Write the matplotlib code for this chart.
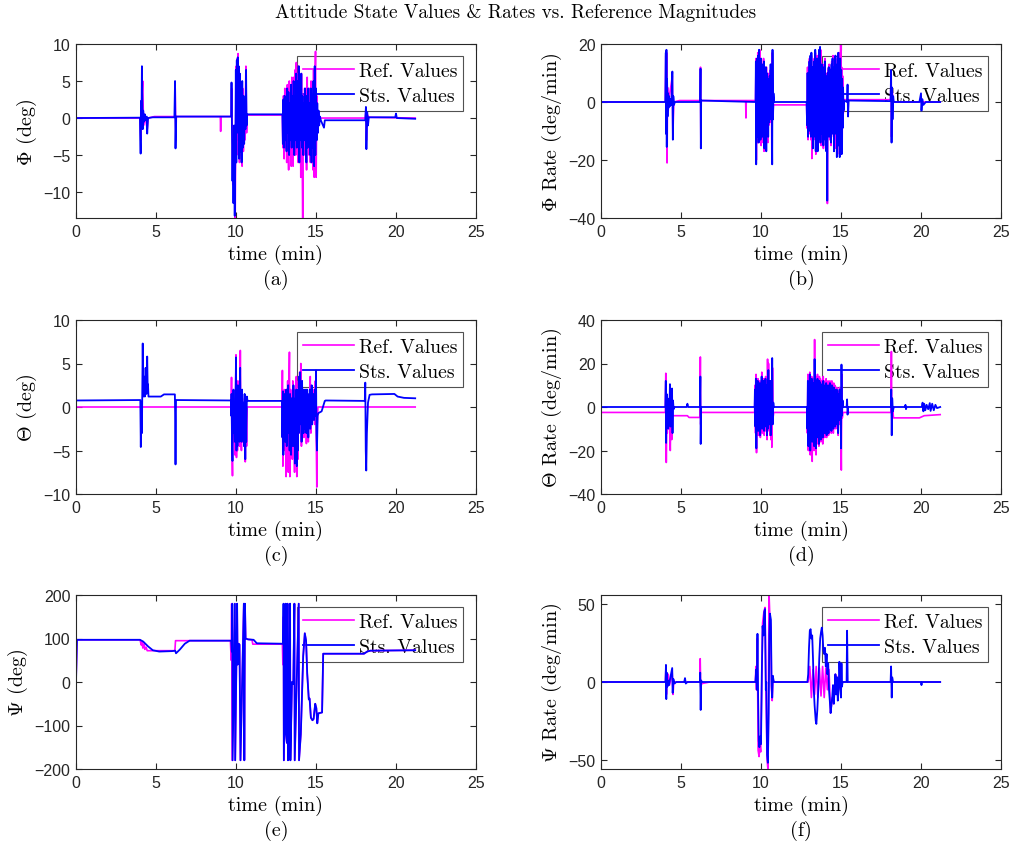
import matplotlib
matplotlib.use("Agg")
import matplotlib.pyplot as plt

plt.rcParams['mathtext.fontset'] = 'cm'
plt.rcParams['font.family'] = ['Liberation Sans', 'DejaVu Sans']
CM = 'cmr10'

# ---- (a) Phi (deg) ----
phi_sts_t = [0, 4.0, 4.04, 4.06, 4.09, 4.12, 4.17, 4.2, 4.25, 4.3, 4.35, 4.42, 4.45, 4.5, 4.8, 6.15, 6.19, 6.22, 6.26, 9.7,
             9.72, 9.75, 9.78, 9.81, 9.84, 9.88, 9.92, 9.96, 9.99, 10.02, 10.05, 10.08, 10.11, 10.14, 10.17, 10.2, 10.24,
             10.27, 10.31, 10.35, 10.39, 10.43, 10.47, 10.51, 10.55, 10.59, 10.63, 10.66, 10.7, 12.9,
             12.93, 12.96, 13.0, 13.04, 13.08, 13.12, 13.16, 13.2, 13.24, 13.28, 13.32, 13.36, 13.4, 13.44, 13.48, 13.52,
             13.56, 13.6, 13.64, 13.68, 13.72, 13.76, 13.8, 13.84, 13.88, 13.92, 13.96, 14.0, 14.04, 14.08, 14.12, 14.16,
             14.2, 14.24, 14.28, 14.32, 14.36, 14.4, 14.44, 14.48, 14.52, 14.56, 14.6, 14.64, 14.68, 14.72, 14.76, 14.8,
             14.84, 14.88, 14.92, 14.96, 15.0, 15.04, 15.08, 15.12, 15.16, 15.2, 15.25, 15.3, 15.5, 15.55, 18.08, 18.12,
             18.15, 18.2, 18.25, 18.3, 19.95, 20.0, 20.05, 21.2]
phi_sts_v = [0, 0.05, -4.8, 2.3, -1, 7.0, -1.5, 1, -0.5, 0.5, -0.3, 0.2, -2.1, 0, 0.1, 0.1, 5.0, -4.1, 0.2, 0.2,
             4.8, -2, -8.5, -3, -11.5, -1, -13.2, -4, 6.5, -6, 7.8, 2, 8.2, -2, 7, -5.5, 6,
             -4.5, 3, -6, 5, -4, 3, -3.5, 2, -1.5, 6.5, -1, 0.5, 0.5,
             -3.5, 2.5, -4, 3, -3, 2, -4.5, 4, -2, 3.5, -5, 2, -3, 4.5, -4, 3,
             -2.5, 5, -5, 3, -3, 6, -4, 5, -2, 7, -6, 4, -3, 6, -4, 3,
             -5, 2, -3, 4, -2, -6, 3, -4, 4, -3, 2, -5, 4, -6, 3, -4,
             5, -6.5, 7, -5, 4, -3, 2, -2, 1, -1, 0.2, -0.3, -1.3, -0.3, -0.3, 1.5,
             -4.2, 0.8, -1, 0.1, 0.1, 0.6, 0, -0.1]
phi_ref_t = [0, 4.0, 4.05, 4.1, 4.17, 4.22, 4.3, 4.45, 4.5, 4.9, 6.18, 6.2, 6.24, 6.27, 9.02, 9.04, 9.06, 9.7,
             9.73, 9.77, 9.8, 9.84, 9.87, 9.91, 9.95, 9.98, 10.01, 10.04, 10.07, 10.1, 10.13, 10.16, 10.19, 10.22,
             10.26, 10.3, 10.34, 10.38, 10.42, 10.46, 10.5, 10.54, 10.58, 10.62, 10.66, 10.7, 12.9,
             12.93, 12.97, 13.01, 13.05, 13.09, 13.13, 13.17, 13.21, 13.25, 13.29, 13.33, 13.37, 13.41, 13.45, 13.49,
             13.53, 13.57, 13.61, 13.65, 13.69, 13.73, 13.77, 13.81, 13.85, 13.89, 13.93, 13.97, 14.01, 14.05, 14.09,
             14.13, 14.17, 14.21, 14.25, 14.29, 14.33, 14.37, 14.41, 14.45, 14.49, 14.53, 14.57, 14.61, 14.65, 14.69,
             14.73, 14.77, 14.81, 14.85, 14.89, 14.93, 14.97, 15.01, 15.05, 15.09, 15.13, 15.2, 18.08, 18.12, 18.15,
             18.2, 18.3, 21.2]
phi_ref_v = [0, 0, -3, 2, 5, -1, 0.5, -1.5, 0, 0.2, 0.2, 4, -3, 0.2, 0.2, -1.8, 0.2, 0.2,
             4, -3, -9, -5, -11, -3, -13.5, -2, 7, -5, 8, 3, 8.7, -3, 6, -6,
             5, -5, 2, -6.5, 4, -4.5, 2, -3, 1, 7, -2, 0.4, 0.4,
             -4, 3, -5.5, 4, -4, 3, -6, 4.5, -3, -7, 5, -4, 3, -6.5, 5.5,
             -3, -6.5, 5.5, -4, 6.5, -5, 7.5, -3, 6, -6, 7, -4, 5, -8, 6,
             -3, -14, 3, -5, 4, -3, 2, -7, 5.5, -4, 3, -5, 4, -6, 5,
             -4, 3, -7, 6.5, -8, 4, 9, -8, 3, -2, 1, 0, 0, 1, -3,
             0.5, 0.1, 0]

# ---- (b) Phi rate (deg/min) ----
phir_sts_t = [0, 4.02, 4.05, 4.07, 4.09, 4.11, 4.13, 4.16, 4.19, 4.22, 4.26, 4.3, 4.35, 4.4, 4.46, 4.49, 4.52, 4.56,
              4.62, 6.2, 6.22, 6.24, 6.26, 9.66,
              9.68, 9.7, 9.72, 9.74, 9.76, 9.79, 9.82, 9.85, 9.88, 9.91, 9.94, 9.97, 10.0, 10.03, 10.06, 10.09, 10.12,
              10.15, 10.18, 10.21, 10.24, 10.27, 10.3, 10.33, 10.36, 10.39, 10.42, 10.45, 10.48, 10.51, 10.54, 10.57,
              10.6, 10.63, 10.66, 10.7, 10.72, 10.75, 10.78, 10.82, 12.85,
              12.88, 12.91, 12.94, 12.97, 13.0, 13.03, 13.06, 13.09, 13.12, 13.15, 13.18, 13.21, 13.24, 13.27, 13.3,
              13.33, 13.36, 13.39, 13.42, 13.45, 13.48, 13.51, 13.54, 13.57, 13.6, 13.63, 13.66, 13.69, 13.72, 13.75,
              13.78, 13.81, 13.84, 13.87, 13.9, 13.93, 13.96, 13.99, 14.02, 14.05, 14.08, 14.11, 14.14, 14.17, 14.2,
              14.23, 14.26, 14.29, 14.32, 14.35, 14.38, 14.41, 14.44, 14.47, 14.5, 14.53, 14.56, 14.59, 14.62, 14.65,
              14.68, 14.71, 14.74, 14.77, 14.8, 14.83, 14.86, 14.89, 14.92, 14.95, 14.98, 15.01, 15.04, 15.07, 15.1,
              15.13, 15.16, 15.2, 15.38, 15.41, 15.44, 15.48, 18.1, 18.13, 18.16, 18.19, 18.22, 18.26, 18.3, 19.9, 20.0,
              20.03, 20.08, 20.15, 20.3, 21.2]
phir_sts_v = [0, 0, 17, -11, 18, -15.5, 8, -5, 3, -2, 2, -1.5, 1, -1, 10.5, -13, 2, -1,
              0, 0, 11.5, -16, 0.5, 0,
              14, -21.5, 10, -12, 15, -9, 16, -14, 18, -10, 12, -13, 15, -11, 9, -12, 13,
              -8, 14, -16, 7, -10, 12, -17, 10, -9, 8, -12, 6, -7, 9, -5,
              13, -6, 10, -21.5, 18, -6, 3, 0, 0,
              -8, 10, -12, 8, -6, 14, -10, 16, -12, 17, -8, 12, -16, 7, -12,
              14, -9, 18, -17, 13, -10, 15, -17, 11, -13, 18, -9, 19, -14, 10,
              -11, 13, -8, 11, -15, 12, -10, 14, -13, 9, -17, 8, -34, 10, -10,
              12, -12, 9, -9, 11, -14, 13, -8, 15, -11, 10, -17, 12, -11, 16,
              -8, 9, -19, 13, -12, 17, -15, 10, -19, 15, -13, 11, -18, 8, -9,
              5, -3, 0.5, 0, 6, -5, 0.5, 0.3, 11, -14, 5, -6, 2, 0, 0, 3,
              -3, 1, -1, 0, 0]
phir_ref_t = [0, 4.02, 4.05, 4.08, 4.1, 4.13, 4.16, 4.2, 4.25, 4.46, 4.49, 4.55, 4.9, 6.2, 6.22, 6.24, 6.26, 9.04,
              9.06, 9.08, 9.66,
              9.69, 9.71, 9.74, 9.77, 9.8, 9.83, 9.86, 9.89, 9.92, 9.95, 9.98, 10.01, 10.04, 10.07, 10.1, 10.13, 10.16,
              10.19, 10.22, 10.25, 10.28, 10.31, 10.34, 10.37, 10.4, 10.43, 10.46, 10.49, 10.52, 10.55, 10.58, 10.61,
              10.64, 10.68, 10.71, 10.74, 10.78, 12.85,
              12.88, 12.91, 12.94, 12.97, 13.0, 13.03, 13.06, 13.09, 13.12, 13.15, 13.18, 13.21, 13.24, 13.27, 13.3,
              13.33, 13.36, 13.4, 13.43, 13.46, 13.5, 13.53, 13.56, 13.6, 13.63, 13.66, 13.7, 13.73, 13.76, 13.8,
              13.83, 13.86, 13.9, 13.93, 13.96, 14.0, 14.03, 14.06, 14.09, 14.12, 14.15, 14.18, 14.22, 14.26, 14.3,
              14.34, 14.38, 14.42, 14.46, 14.5, 14.54, 14.58, 14.62, 14.66, 14.7, 14.74, 14.78, 14.82, 14.86, 14.9,
              14.94, 14.98, 15.01, 15.04, 15.07, 15.1, 15.14, 15.2, 18.1, 18.13, 18.16, 18.2, 18.25, 18.3, 21.2]
phir_ref_v = [0, 0, 16, -10, 17, -21, 5, -3, 1, 9, -12, 0, 0.5, 0.5, 12, -15, 0.5, 0.5,
              -5.5, 0.5, 0.5,
              15, -20, 12, -14, 17, -10, 15, -12, 18, -14, 12, -15, 13, -12, 10, -14, 15,
              -17, 8, -11, 11, -16, 12, -10, 9, -14, 7, -8, 10, -6, 11, -7,
              12, -20, 17, -5, -1, -1,
              -9, 12, -13, 9, -7, 15, -11, 14, -13, 16, -19.5, 11, -15, 9, -13,
              15, -10, 17, -18, 12, -11, 16, -15, 12, -14, 17, -10, 18, -15, 12,
              -12, 13, -16, 11, -11, 15, -12, 10, -16, 9, -35, 11, -11, 13, -13,
              10, -15, 14, -9, 16, -12, 11, -16, 15, -9, 10, -18, 14, -14, 17,
              -18, 20, -15, 12, -17, 9, -4, 0.8, 0.8, 10, -12, 4, 0.5, 0, 0]

# ---- (c) Theta (deg) ----
th_sts_t = [0, 4.02, 4.05, 4.08, 4.12, 4.17, 4.2, 4.25, 4.3, 4.35, 4.4, 4.45, 4.48, 4.5, 4.53, 5.3, 5.5, 6.18, 6.2,
            6.22, 6.25, 9.68,
            9.7, 9.72, 9.75, 9.78, 9.81, 9.84, 9.87, 9.9, 9.93, 9.96, 10.0, 10.03, 10.06, 10.09, 10.12, 10.15, 10.18,
            10.22, 10.26, 10.29, 10.32, 10.35, 10.38, 10.42, 10.46, 10.5, 10.54, 10.58, 10.61, 10.64, 10.68, 10.72,
            12.88,
            12.9, 12.93, 12.96, 12.99, 13.02, 13.05, 13.08, 13.11, 13.14, 13.17, 13.2, 13.23, 13.26, 13.29, 13.32,
            13.35, 13.38, 13.41, 13.44, 13.47, 13.5, 13.53, 13.56, 13.59, 13.62, 13.65, 13.68, 13.71, 13.74, 13.77,
            13.8, 13.83, 13.86, 13.89, 13.92, 13.95, 13.98, 14.01, 14.04, 14.07, 14.1, 14.13, 14.16, 14.19, 14.22,
            14.25, 14.28, 14.31, 14.34, 14.37, 14.4, 14.43, 14.46, 14.49, 14.52, 14.55, 14.58, 14.61, 14.64, 14.67,
            14.7, 14.73, 14.76, 14.79, 14.82, 14.85, 14.88, 14.91, 14.94, 14.97, 15.0, 15.03, 15.06, 15.1, 15.15,
            15.35, 15.55, 15.6, 18.05, 18.08, 18.11, 18.14, 18.18, 18.25, 18.35, 18.5, 19.9, 20.1, 20.5, 21.2]
th_sts_v = [0.75, 0.8, -4.6, 0.5, -3, 7.3, 1.2, 3.5, 1.2, 4.5, 1.5, 5.8, 2.2, 2.6, 1.2, 1.2, 1.45, 1.45, -1.5,
            -6.6, 0.8, 0.75,
            -1, 1.5, -4, -6.2, -1, 2, -3, 0.5, -4, -1, 5.7, -5, 1, -4.5, 2.5, -3, 0.5,
            -4, 4.5, -2.5, 1, -4, 2, -3.5, 0.5, -4.5, 1.5, -6, 0.5, -4, 1.2, 0.7,
            0.7,
            -3.5, 1.8, -5.5, 0.5, -2.5, 1.5, -4, -1, 2, -4.5, 0.5, -2, 2.5, -3, 0,
            -5, 1.5, -2, -5.5, 1, -3, 0.5, -4.5, 2.5, -3.5, 0, -6.5, 1, -2.5, 2,
            -6.8, -1, -5, 2, -3, 3.5, -2, 4, -1, 1.5, -4, 3, -1.5, 2, -3,
            1, -2.5, 2, -1, 1.5, -3, 2, -0.5, 1.5, -3.5, 0.5, -1.5, 2, -2.5, 1,
            -1, 2.5, -2, 1, -0.5, 1.5, -1.5, 0.5, 2, -1, 4.2, -3, -5, -1, -0.7,
            -0.5, 0.7, 0.75, 0.7, 2.8, -5, -7.3, -3, 0.5, 1.4, 1.45, 1.5, 1.2, 1.05, 1.0]
th_ref_t = [0, 9.7,
            9.72, 9.75, 9.78, 9.81, 9.84, 9.87, 9.9, 9.93, 9.97, 10.0, 10.03, 10.06, 10.09, 10.12, 10.16, 10.2, 10.23,
            10.27, 10.3, 10.34, 10.38, 10.42, 10.46, 10.5, 10.54, 10.58, 10.62, 10.66, 10.7, 12.88,
            12.9, 12.93, 12.96, 13.0, 13.03, 13.06, 13.1, 13.13, 13.16, 13.2, 13.23, 13.27, 13.3, 13.34, 13.37, 13.41,
            13.44, 13.48, 13.52, 13.55, 13.59, 13.62, 13.66, 13.7, 13.73, 13.77, 13.8, 13.84, 13.87, 13.91, 13.94,
            13.98, 14.02, 14.05, 14.09, 14.12, 14.16, 14.2, 14.24, 14.28, 14.32, 14.36, 14.4, 14.44, 14.48, 14.52,
            14.56, 14.6, 14.64, 14.68, 14.72, 14.76, 14.8, 14.84, 14.88, 14.92, 14.96, 15.0, 15.05, 15.08, 15.12, 21.2]
th_ref_v = [0, 0,
            3.4, -5, -7.9, -2, 1, -4, -1, -5.5, 0, 6, -5.8, -1, -5, 3, -3.5, 0, -4.5,
            6.5, -3, -5, 1, -4, 0, -4, 1, -6.3, 0, -4.5, 0, 0,
            4.2, -6.8, 1.5, -5, 2, -4, 1.5, -8, 2, -4, 3, -7.5, 1, 6.3, -8, 2,
            -5, 1, -6, 3, -4, 0, -7.5, 2, -5, 3.5, -8, -1, -6, 3, -3,
            4, -2, 5, -4.5, 3, -2.5, 2, -3.5, 1, -3, 2, -4.2, 2, -1, -4,
            1, -2, 3.5, -3, 1, -2, 2, -1.5, 1, -2, 3, -1, -9.2, -2, 0, 0]

# ---- (d) Theta rate (deg/min) ----
thr_sts_t = [0, 4.02, 4.05, 4.07, 4.1, 4.13, 4.16, 4.2, 4.23, 4.27, 4.31, 4.34, 4.37, 4.4, 4.44, 4.47, 4.5, 4.54,
             4.6, 5.35, 5.4, 5.45, 6.18, 6.21, 6.23, 6.26, 9.6,
             9.62, 9.65, 9.68, 9.71, 9.74, 9.77, 9.8, 9.83, 9.86, 9.89, 9.92, 9.95, 9.98, 10.01, 10.04, 10.07, 10.1,
             10.13, 10.16, 10.19, 10.22, 10.25, 10.28, 10.31, 10.34, 10.37, 10.4, 10.43, 10.46, 10.49, 10.52, 10.55,
             10.58, 10.61, 10.64, 10.67, 10.7, 10.73, 10.77, 10.8, 12.88,
             12.9, 12.93, 12.96, 12.99, 13.02, 13.05, 13.08, 13.11, 13.14, 13.17, 13.2, 13.23, 13.26, 13.29, 13.32,
             13.35, 13.38, 13.41, 13.44, 13.47, 13.5, 13.53, 13.56, 13.59, 13.62, 13.65, 13.68, 13.71, 13.74, 13.77,
             13.8, 13.83, 13.86, 13.89, 13.92, 13.95, 13.98, 14.01, 14.04, 14.07, 14.1, 14.13, 14.16, 14.19, 14.22,
             14.25, 14.28, 14.31, 14.34, 14.37, 14.4, 14.43, 14.46, 14.49, 14.52, 14.55, 14.58, 14.61, 14.64, 14.67,
             14.7, 14.73, 14.76, 14.79, 14.82, 14.85, 14.88, 14.91, 14.94, 14.97, 15.0, 15.03, 15.06, 15.1, 15.14,
             15.35, 15.38, 15.41, 15.45, 18.12, 18.14, 18.17, 18.2, 18.24, 18.3, 19.0, 19.03, 19.06, 19.1, 20.05,
             20.1, 20.15, 20.2, 20.27, 20.35, 20.45, 20.55, 20.6, 20.7, 20.8, 20.9, 21.0, 21.2]
thr_sts_v = [0, 0, 12, -16.5, 6, -8, 4, -10, 2, -3, 10.5, -9, 5, -4, 8.5, -12, 3, -1,
             0, 0, 1.5, 0, 0, 14, -17, 0, 0,
             8, -9, 13, -19, 10, -7, 12, -11, 9, -8, 11, -13, 8, -6, 14, -10, 7,
             -7, 12, -11, 9, -9, 13, -7, 10, -13, 8, -10, 17, -6, 10, -8,
             12, -13, 7, -6, 22.5, -8, 2, 0, 0,
             -10, 12, -18, 9, -12, 15, -20, 10, -14, 13, -16, 9, -11, 11, -18,
             22, -13, 12, -19, 10, -14, 13, -10, 9, -17, 12, -12, 11, -15, 10,
             -11, 9, -14, 12, -10, 8, -12, 10, -9, 11, -13, 9, -8, 10, -12,
             8, -10, 11, -9, 9, -11, 10, -8, 7, -10, 9, -7, 8, -9, 6,
             -6, 8, -8, 5, -12, 6, -5, 8, -6, 3, -19, 19.5, -4, 3, 0,
             0, 3.5, -3.5, 0, 0, 8, -13, 4, -2, 0, 0, 1, -1, 0, 0,
             2, -2, 1.5, -1.5, 1, -1, 1.8, -1.8, 1.5, -1.5, 1, -0.5, 0]
thr_ref_t = [0, 4.02, 4.05, 4.08, 4.11, 4.14, 4.18, 4.22, 4.27, 4.33, 4.37, 4.42, 4.46, 4.5, 5.4, 5.5, 6.18, 6.21,
             6.23, 6.26, 9.6,
             9.63, 9.66, 9.69, 9.72, 9.75, 9.78, 9.81, 9.84, 9.87, 9.9, 9.93, 9.96, 9.99, 10.02, 10.05, 10.08, 10.11,
             10.14, 10.17, 10.2, 10.23, 10.26, 10.29, 10.32, 10.35, 10.38, 10.41, 10.44, 10.47, 10.5, 10.53, 10.56,
             10.59, 10.62, 10.65, 10.68, 10.72, 10.75, 10.8, 12.88,
             12.9, 12.93, 12.96, 12.99, 13.02, 13.05, 13.08, 13.11, 13.14, 13.17, 13.2, 13.23, 13.26, 13.29, 13.32,
             13.35, 13.38, 13.41, 13.44, 13.47, 13.5, 13.53, 13.56, 13.59, 13.62, 13.65, 13.68, 13.71, 13.74, 13.77,
             13.8, 13.83, 13.86, 13.89, 13.92, 13.95, 13.98, 14.01, 14.04, 14.07, 14.1, 14.13, 14.16, 14.19, 14.22,
             14.25, 14.28, 14.31, 14.34, 14.37, 14.4, 14.43, 14.46, 14.49, 14.52, 14.55, 14.58, 14.61, 14.64, 14.67,
             14.7, 14.73, 14.76, 14.79, 14.82, 14.85, 14.88, 14.91, 14.94, 14.97, 15.02, 15.05, 15.08, 15.12, 18.12,
             18.15, 18.18, 18.22, 18.28, 19.9, 20.2, 21.2]
thr_ref_v = [-2.5, -2.5, 15.5, -25.5, -5, -12, 3, -8, -3, -20, -2, -15, -4, -4, -4, -4.8, -4.8, 23,
             -8, -2.5, -2.5,
             10, -12, 15, -21, 11, -10, 13, -13, 8, -11, 12, -14, 10, -9, 16, -12, 8,
             -10, 13, -13, 9, -11, 14, -10, 11, -15, 22, -11, 20, -9, 12, -13,
             12, -15, 6, -18.5, 18, -5, -2.5, -2.5,
             -12, 15, -20, 11, -15, 16, -22, 12, -16, 14, -25, 10, -13, 13, -20,
             31, -16, 14, -22, 12, -17, 15, -13, 11, -18, 14, -15, 13, -16, 12,
             -13, 11, -17, 14, -12, 10, -14, 12, -11, 13, -14, 11, -10, 12, -13,
             10, -12, 12, -11, 11, -12, 12, -10, 9, -12, 11, -9, 10, -10, 8,
             -8, 9, -10, 7, -13, 7, -7, 9, -8, 5, -29, 15, -5, -2.5, -2.5,
             25.5, -10, 0, -5, -5, -4, -3.5]

# ---- (e) Psi (deg) ----
psi_sts_t = [0, 0.06, 4.0, 4.2, 4.5, 4.8, 5.2, 6.0, 6.2, 6.25, 6.5, 6.8, 7.1, 9.7, 9.74, 9.77, 9.79, 9.93, 9.95, 10.07,
             10.1, 10.16, 10.22, 10.28, 10.49, 10.52, 10.56, 10.6, 10.75, 11.1, 11.3, 12.9, 12.95, 12.97, 12.99, 13.1,
             13.12, 13.18, 13.22, 13.25, 13.3, 13.38, 13.4, 13.5, 13.58, 13.65, 13.67, 13.92, 13.94, 14.05, 14.2, 14.3,
             14.38, 14.45, 14.55, 14.6, 14.68, 14.78, 14.85, 14.95, 15.02, 15.08, 15.15, 15.38, 15.45, 18.0, 18.2, 18.4,
             21.2]
psi_sts_v = [0, 97, 97, 93, 82, 73, 70, 71, 72, 66, 75, 88, 95, 95, 70, 180, -180, 180, -180, 180,
             40, 88, 86, -180, 180, -180, 180, 100, 98, 97, 89, 88, 90, 180, -180, 180,
             -120, -140, 180, -180, -140, 180, -180, 0, -5, 180, -180, 180, -180, -120, 60, 112,
             95, 20, -40, -38, -82, -88, -85, -50, -60, -95, -72, -70, 65, 65, 70, 72,
             73]
psi_ref_t = [0, 0.06, 4.0, 4.08, 4.12, 4.18, 4.25, 4.3, 4.38, 4.45, 6.18, 6.22, 9.65, 9.7, 9.73, 9.76, 9.93, 9.95,
             10.07, 10.1, 10.16, 10.22, 10.28, 10.49, 10.52, 10.56, 10.6, 10.75, 11.0, 11.05, 12.9, 12.93, 12.97,
             12.99, 13.06, 13.1, 13.12, 13.18, 13.22, 13.25, 13.3, 13.38, 13.4, 13.5, 13.58, 13.65, 13.67, 13.92,
             13.94, 14.05, 14.2, 14.3, 14.38, 14.45, 14.55, 14.6, 14.68, 14.78, 14.85, 14.95, 15.02, 15.08, 15.15,
             15.38, 15.45, 18.0, 18.2, 18.4, 21.2]
psi_ref_v = [0, 97, 97, 85, 92, 78, 88, 75, 80, 72, 72, 95, 95, 50, 180, -180, 180, -180,
             180, 40, 88, 86, -180, 180, -180, 180, 100, 98, 97, 87, 87, 40, 150,
             -180, 147, 180, -120, -140, 180, -180, -140, 180, -180, 0, -5, 180, -180, 180,
             -180, -120, 60, 112, 95, 20, -40, -38, -82, -88, -85, -50, -60, -95, -72,
             -70, 65, 65, 70, 72, 73]

# ---- (f) Psi rate (deg/min) ----
psir_sts_t = [0, 4.03, 4.06, 4.08, 4.11, 4.15, 4.2, 4.25, 4.3, 4.45, 4.48, 4.52, 4.6, 4.7, 5.2, 5.25, 5.3, 5.4, 6.18,
              6.2, 6.23, 6.26, 6.3, 9.65, 9.7, 9.74, 9.78, 9.82, 9.86, 9.9, 9.95, 10.0, 10.05, 10.1, 10.15, 10.2,
              10.25, 10.3, 10.33, 10.38, 10.43, 10.48, 10.52, 10.56, 10.62, 10.66, 10.7, 10.74, 10.8, 12.9, 12.95,
              13.0, 13.05, 13.1, 13.15, 13.2, 13.25, 13.3, 13.35, 13.42, 13.46, 13.52, 13.58, 13.64, 13.7, 13.75,
              13.8, 13.85, 13.9, 13.95, 14.0, 14.05, 14.1, 14.15, 14.2, 14.25, 14.3, 14.35, 14.4, 14.45, 14.5, 14.55,
              14.6, 14.65, 14.7, 14.75, 14.8, 14.85, 14.9, 14.95, 15.0, 15.03, 15.06, 15.1, 15.35, 15.38, 15.42,
              18.1, 18.13, 18.17, 18.2, 18.25, 20.0, 20.03, 20.06, 21.2]
psir_sts_v = [0, 0, 11, -11, 6, -3, 1, -2, 1, 9, -7, 2, -1, 0, 0, 2.5, -1, 0, 0,
              6, -18, 1, 0, 0, 8, -5, 31, -10, -38, -42, -35, -40, 5, 36, 30, 45,
              47, -5, 0, -47, -52, -20, 30, 44, 40, -2, -10, 4, 0, 0, 5,
              22, 33, 34, 28, 30, 15, -5, -15, -25, -27, -18, -5, 15, 28, 32,
              35, 30, 20, 18, 22, 10, 18, 5, 12, -5, -12, -20, -15, -10, -2, -14,
              -5, 5, -8, 3, -12, -5, 13, 0, -10, 12, -3, 0, 0, 33, 0,
              0, 10, -10, 3, 0, 0, -2, 0, 0]
psir_ref_t = [0, 4.03, 4.06, 4.09, 4.13, 4.2, 4.28, 4.45, 4.5, 4.55, 6.18, 6.2, 6.23, 6.3, 6.8, 9.65, 9.68, 9.72,
              9.77, 9.82, 9.88, 9.93, 9.98, 10.05, 10.1, 10.18, 10.25, 10.3, 10.38, 10.44, 10.5, 10.56, 10.62, 10.66,
              10.7, 10.75, 10.8, 12.95, 13.05, 13.15, 13.25, 13.35, 13.45, 13.55, 13.65, 13.75, 13.85, 13.95, 14.05,
              14.15, 14.25, 14.35, 14.45, 14.55, 14.65, 14.75, 14.85, 14.95, 15.05, 21.2]
psir_ref_v = [0, 0, 10, -8, 4, 5, -2, 6, -8, 0, 0, 15, -3, -1, 0, 0, 10, -5,
              28, -44, -48, -40, -45, 0, 38, 45, 48, 0, -50, -57, 57, 40, 35, -5,
              -12, 2, 0, 0, 10, -10, 8, -8, 10, -10, 9, -9, 10, -10, 9,
              -5, 8, -20, -10, -14, 5, 3, -5, 0, 0, 0]

panels = [
    ('(a)', r'$\Phi$', '(deg)', (-13.5, 10), [-10, -5, 0, 5, 10], phi_ref_t, phi_ref_v, phi_sts_t, phi_sts_v),
    ('(b)', r'$\Phi$', 'Rate (deg/min)', (-40, 20), [-40, -20, 0, 20], phir_ref_t, phir_ref_v, phir_sts_t, phir_sts_v),
    ('(c)', r'$\Theta$', '(deg)', (-10, 10), [-10, -5, 0, 5, 10], th_ref_t, th_ref_v, th_sts_t, th_sts_v),
    ('(d)', r'$\Theta$', 'Rate (deg/min)', (-40, 40), [-40, -20, 0, 20, 40], thr_ref_t, thr_ref_v, thr_sts_t, thr_sts_v),
    ('(e)', r'$\Psi$', '(deg)', (-200, 200), [-200, -100, 0, 100, 200], psi_ref_t, psi_ref_v, psi_sts_t, psi_sts_v),
    ('(f)', r'$\Psi$', 'Rate (deg/min)', (-56, 56), [-50, 0, 50], psir_ref_t, psir_ref_v, psir_sts_t, psir_sts_v),
]

W, H = 1011, 845
fig = plt.figure(figsize=(W / 100, H / 100), dpi=100)
lefts = [76, 601]
tops = [45, 321, 596]

fig.text(516 / W, 1 - 13 / H, 'Attitude State Values & Rates vs. Reference Magnitudes',
         ha='center', va='center', fontsize=13.9, family=CM)

for i, (tag, sym, unit, ylim, yt, rt, rv, st, sv) in enumerate(panels):
    x0 = lefts[i % 2]
    y0 = tops[i // 2]
    ax = fig.add_axes([x0 / W, 1 - (y0 + 174) / H, 400 / W, 174 / H])
    ax.plot(rt, rv, color='#ff00ff', lw=1.2, label='Ref. Values')
    ax.plot(st, sv, color='#0000ff', lw=1.3, label='Sts. Values')
    ax.set_xlim(0, 25)
    ax.set_ylim(*ylim)
    ax.set_xticks([0, 5, 10, 15, 20, 25])
    ax.set_yticks(yt)
    ax.tick_params(direction='in', top=True, right=True, labelsize=11.5, length=4,
                   color='#262626', labelcolor='#262626', pad=4)
    for s in ax.spines.values():
        s.set_color('#262626')
        s.set_linewidth(0.8)
    ax.set_ylabel(sym + ' ' + unit, fontsize=14.5, labelpad=3, family=CM)
    ax.text(0.5, -0.205, 'time (min)', transform=ax.transAxes, ha='center', va='center', fontsize=14.5, family=CM)
    ax.text(0.5, -0.35, tag, transform=ax.transAxes, ha='center', va='center', fontsize=14.5, family=CM)
    leg = ax.legend(loc='upper right', bbox_to_anchor=(0.9675, 0.931), frameon=True,
                    prop={'family': CM, 'size': 14.2},
                    fancybox=False, edgecolor='#262626', handlelength=2.6,
                    borderpad=0.3, labelspacing=0.38, handletextpad=0.25, borderaxespad=0)
    leg.get_frame().set_facecolor('none')
    leg.get_frame().set_linewidth(0.8)
    leg.set_zorder(1)

fig.savefig('out.png', dpi=100)
